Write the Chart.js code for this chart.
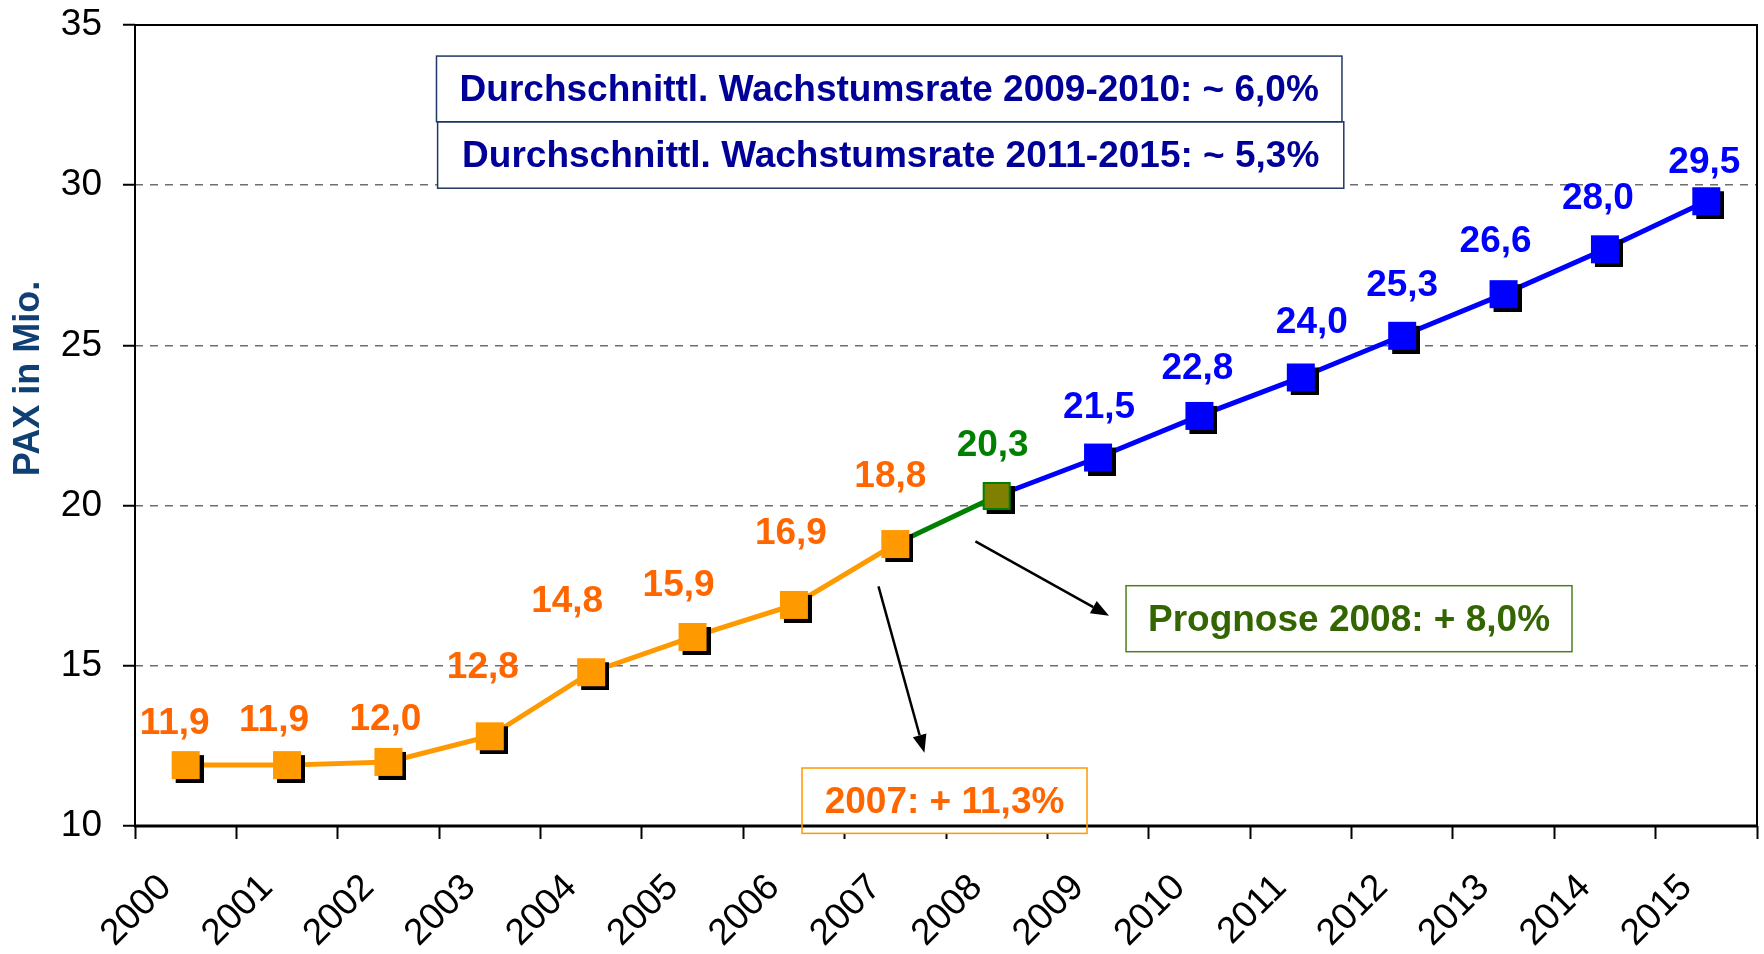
<!DOCTYPE html>
<html>
<head>
<meta charset="utf-8">
<script src="https://cdn.jsdelivr.net/npm/chart.js@4.4.1/dist/chart.umd.min.js"></script>
<style>
  html, body { margin: 0; padding: 0; background: #ffffff; }
  #wrap { width: 1764px; height: 954px; }
</style>
</head>
<body>
<div id="wrap"><canvas id="c" width="1764" height="954"></canvas></div>
<script>
// ---------- DATA ----------
const years = ['2000','2001','2002','2003','2004','2005','2006','2007',
               '2008','2009','2010','2011','2012','2013','2014','2015'];
const pax = [11.9, 11.9, 12.0, 12.8, 14.8, 15.9, 16.9, 18.8,
             20.3, 21.5, 22.8, 24.0, 25.3, 26.6, 28.0, 29.5];
// segments of the line
const actual     = [11.9, 11.9, 12.0, 12.8, 14.8, 15.9, 16.9, 18.8, null, null, null, null, null, null, null, null];
const prognosis  = [null, null, null, null, null, null, null, 18.8, 20.3, null, null, null, null, null, null, null];
const projection = [null, null, null, null, null, null, null, null, 20.3, 21.5, 22.8, 24.0, 25.3, 26.6, 28.0, 29.5];
const yTicks = [10, 15, 20, 25, 30, 35];
const yTitle = 'PAX in Mio.';
const noteRate1 = 'Durchschnittl. Wachstumsrate 2009-2010: ~ 6,0%';
const noteRate2 = 'Durchschnittl. Wachstumsrate 2011-2015: ~ 5,3%';
const note2008 = 'Prognose 2008: + 8,0%';
const note2007 = '2007: + 11,3%';

// ---------- STYLE ----------
const FONT = "'Liberation Sans', Arial, Helvetica, sans-serif";
const ORANGE_LINE = '#FF9900', ORANGE_TXT = '#FF6600';
const GREEN_LINE = '#008000', OLIVE = '#808000';
const BLUE = '#0000FF';
// per-label nudges [dx, dy above point] in px (labels were hand placed in the original)
const labelNudges = [[-11,31],[-13,34],[-3,32],[-7,58],[-24,60],[-14,41],[-3,61],[-5,57],
                     [-4,40],[1,40],[-2,37],[11,44],[0,40],[-8,42],[-7,40],[-2,28]];

function makeMarker(fill, stroke) {
  const s = 28, off = 4;
  const c = document.createElement('canvas');
  c.width = c.height = s + 2 * off;
  const g = c.getContext('2d');
  g.fillStyle = '#000000';
  g.fillRect(2 * off, 2 * off, s, s);
  g.fillStyle = fill;
  g.fillRect(off, off, s, s);
  if (stroke) {
    g.strokeStyle = stroke; g.lineWidth = 2;
    g.strokeRect(off + 1, off + 1, s - 2, s - 2);
  }
  return c;
}
const mOrange = makeMarker(ORANGE_LINE);
const mGreen = makeMarker(OLIVE, GREEN_LINE);
const mBlue = makeMarker(BLUE);
function segStyle(i, a, b, c) { return actual[i] !== null ? a : (prognosis[i] !== null ? b : c); }

// annotations in data space (x = category index, y = value)
const boxes = [
  { text: noteRate1, x0: 2.474, x1: 11.406, y0: 34.03, y1: 31.98, border: '#203864', color: '#000099', lw: 1.5 },
  { text: noteRate2, x0: 2.485, x1: 11.424, y0: 31.98, y1: 29.906, border: '#203864', color: '#000099', lw: 1.5 },
  { text: note2008, x0: 9.276, x1: 13.675, y0: 17.5, y1: 15.44, border: '#4E7F1E', color: '#336600', lw: 1.5 },
  { text: note2007, x0: 6.08, x1: 8.891, y0: 11.81, y1: 9.77, border: '#FF9900', color: ORANGE_TXT, lw: 1.5 }
];
const arrows = [
  { x0: 6.834, y0: 17.478, x1: 7.287, y1: 12.29 },
  { x0: 7.79, y0: 18.885, x1: 9.108, y1: 16.56 }
];

const framePlugin = {
  id: 'frame',
  beforeDatasetsDraw(chart) {
    const { ctx, chartArea: a, scales: { x, y } } = chart;
    ctx.save();
    ctx.font = 'bold 37px ' + FONT;
    boxes.forEach(b => {
      const l = x.getPixelForValue(b.x0), r = x.getPixelForValue(b.x1);
      const t = y.getPixelForValue(b.y0), btm = y.getPixelForValue(b.y1);
      ctx.fillStyle = '#ffffff';
      ctx.fillRect(l, t, r - l, btm - t);
    });
    // frame
    ctx.strokeStyle = '#000000';
    ctx.lineWidth = 2;
    ctx.beginPath();
    ctx.moveTo(a.left, a.bottom); ctx.lineTo(a.left, a.top); ctx.lineTo(a.right, a.top); ctx.lineTo(a.right, a.bottom);
    ctx.stroke();
    ctx.lineWidth = 3;
    ctx.beginPath(); ctx.moveTo(a.left - 1, a.bottom); ctx.lineTo(a.right + 1, a.bottom); ctx.stroke();
    // box borders and text
    boxes.forEach(b => {
      const l = x.getPixelForValue(b.x0), r = x.getPixelForValue(b.x1);
      const t = y.getPixelForValue(b.y0), btm = y.getPixelForValue(b.y1);
      ctx.strokeStyle = b.border; ctx.lineWidth = b.lw;
      ctx.strokeRect(l, t, r - l, btm - t);
      ctx.fillStyle = b.color;
      ctx.textAlign = 'center'; ctx.textBaseline = 'middle';
      ctx.fillText(b.text, (l + r) / 2, (t + btm) / 2 + 2);
    });
    // arrows
    ctx.strokeStyle = '#000000'; ctx.fillStyle = '#000000'; ctx.lineWidth = 2.5;
    arrows.forEach(ar => {
      const px0 = x.getPixelForValue(ar.x0), py0 = y.getPixelForValue(ar.y0);
      const px1 = x.getPixelForValue(ar.x1), py1 = y.getPixelForValue(ar.y1);
      const ang = Math.atan2(py1 - py0, px1 - px0);
      const hl = 18, hw = 7;
      const bx = px1 - hl * Math.cos(ang), by = py1 - hl * Math.sin(ang);
      ctx.beginPath(); ctx.moveTo(px0, py0); ctx.lineTo(bx, by); ctx.stroke();
      ctx.beginPath();
      ctx.moveTo(px1, py1);
      ctx.lineTo(bx + hw * Math.sin(ang), by - hw * Math.cos(ang));
      ctx.lineTo(bx - hw * Math.sin(ang), by + hw * Math.cos(ang));
      ctx.closePath(); ctx.fill();
    });
    ctx.restore();
  },
  afterDatasetsDraw(chart) {
    const { ctx } = chart;
    const meta = chart.getDatasetMeta(0);
    ctx.save();
    ctx.font = 'bold 37px ' + FONT;
    ctx.textAlign = 'center'; ctx.textBaseline = 'alphabetic';
    meta.data.forEach((pt, i) => {
      const n = labelNudges[i] || [-3, 38];
      ctx.fillStyle = segStyle(i, ORANGE_TXT, GREEN_LINE, BLUE);
      ctx.fillText(pax[i].toFixed(1).replace('.', ','), pt.x + n[0], pt.y - n[1]);
    });
    // y axis title
    const a = chart.chartArea;
    ctx.translate(29, (a.top + a.bottom) / 2 - 47);
    ctx.rotate(-Math.PI / 2);
    ctx.font = 'bold 36px ' + FONT;
    ctx.fillStyle = '#0F3F73';
    ctx.textBaseline = 'middle';
    ctx.fillText(yTitle, 0, 0);
    ctx.restore();
  }
};

new Chart(document.getElementById('c'), {
  type: 'line',
  data: {
    labels: years,
    datasets: [
      { data: pax, showLine: false, pointRadius: 14, pointHoverRadius: 14,
        pointStyle: ctx => segStyle(ctx.dataIndex, mOrange, mGreen, mBlue), order: 0 },
      { data: actual, borderColor: ORANGE_LINE, borderWidth: 5, pointRadius: 0, order: 5 },
      { data: prognosis, borderColor: GREEN_LINE, borderWidth: 5, pointRadius: 0, order: 5 },
      { data: projection, borderColor: BLUE, borderWidth: 5, pointRadius: 0, order: 5 }
    ]
  },
  options: {
    responsive: false,
    animation: false,
    devicePixelRatio: 1,
    layout: { autoPadding: false, padding: { top: 25, right: 7, left: 0, bottom: 0 } },
    plugins: { legend: { display: false }, tooltip: { enabled: false } },
    scales: {
      x: {
        offset: true,
        grid: { offset: true, drawOnChartArea: false, drawTicks: true, tickLength: 13, tickColor: '#000', tickWidth: 2 },
        border: { display: false },
        ticks: { color: '#000', font: { family: FONT, size: 37 }, maxRotation: 45, minRotation: 45,
                 autoSkip: false, padding: 27, labelOffset: -20 },
        afterFit(s) { s.height = 128; s.paddingLeft = 0; s.paddingRight = 0; s.paddingTop = 0; s.paddingBottom = 0; }
      },
      y: {
        min: 10, max: 35,
        afterBuildTicks(s) { s.ticks = yTicks.map(v => ({ value: v })); },
        grid: { color: '#6E6E6E', lineWidth: 1.5, tickColor: '#000', tickWidth: 2, tickLength: 12 },
        border: { display: false, dash: [8, 7] },
        ticks: { color: '#000', font: { family: FONT, size: 37 }, padding: 21 },
        afterFit(s) { s.width = 135; s.paddingLeft = 0; s.paddingRight = 0; s.paddingTop = 0; s.paddingBottom = 0; }
      }
    }
  },
  plugins: [framePlugin]
});
</script>
</body>
</html>
